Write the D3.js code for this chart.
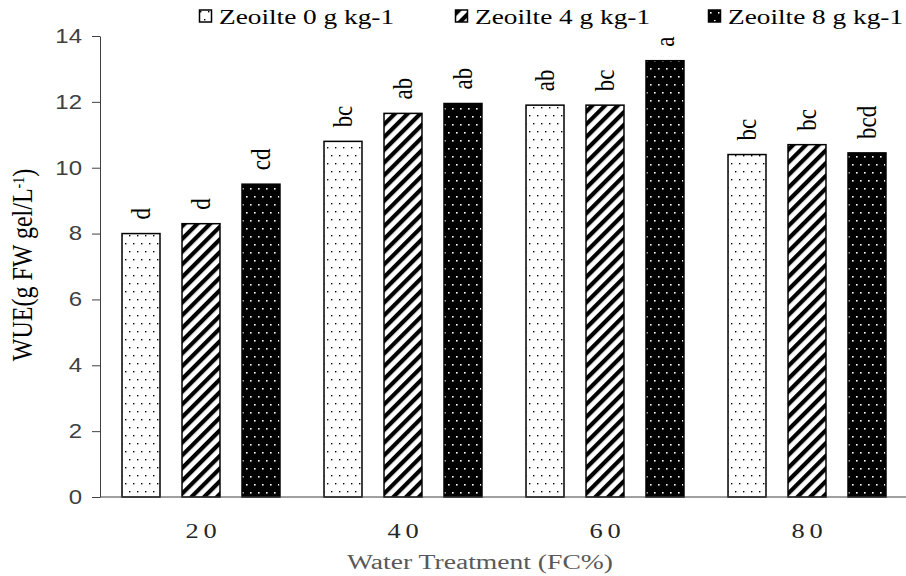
<!DOCTYPE html>
<html>
<head>
<meta charset="utf-8">
<script src="https://cdn.jsdelivr.net/npm/d3@7/dist/d3.min.js"></script>
<style>
  body { margin: 0; background: #fff; }
  text { font-family: "Liberation Serif", "Times New Roman", serif; }
</style>
</head>
<body>
<div id="chart"></div>
<script>
var categories, seriesNames, zeo0, zeo4, zeo8, letters0, letters4, letters8, yTicks;
var svg, x0, x1, y, stretch, patterns, rows, series;

// data
categories = ["20", "40", "60", "80"];
seriesNames = ["Zeoilte 0 g kg-1", "Zeoilte 4 g kg-1", "Zeoilte 8 g kg-1"];
zeo0 = [8.0, 10.8, 11.9, 10.4];
zeo4 = [8.3, 11.65, 11.9, 10.7];
zeo8 = [9.5, 11.95, 13.25, 10.45];
letters0 = ["d", "bc", "ab", "bc"];
letters4 = ["d", "ab", "bc", "bc"];
letters8 = ["cd", "ab", "a", "bcd"];
yTicks = [0, 2, 4, 6, 8, 10, 12, 14];

stretch = 1.3; // the source image is wide for its fonts

series = [
  {name: seriesNames[0], values: zeo0, letters: letters0, fill: "url(#pDots)"},
  {name: seriesNames[1], values: zeo4, letters: letters4, fill: "url(#pStripe)"},
  {name: seriesNames[2], values: zeo8, letters: letters8, fill: "url(#pBlack)"}
];

rows = [];
categories.forEach(function(c, i) {
  series.forEach(function(s, j) {
    rows.push({cat: c, key: s.name, value: s.values[i], letter: s.letters[i], fill: s.fill});
  });
});

svg = d3.select("#chart").append("svg").attr("width", 906).attr("height", 576);

// fill patterns
patterns = svg.append("defs");
var pd = patterns.append("pattern").attr("id", "pDots").attr("patternUnits", "userSpaceOnUse")
  .attr("width", 8).attr("height", 16);
pd.append("rect").attr("width", 8).attr("height", 16).attr("fill", "#fff");
pd.append("rect").attr("x", 1).attr("y", 3).attr("width", 1.4).attr("height", 1.4).attr("fill", "#000");
pd.append("rect").attr("x", 5).attr("y", 11).attr("width", 1.4).attr("height", 1.4).attr("fill", "#000");

var ps = patterns.append("pattern").attr("id", "pStripe").attr("patternUnits", "userSpaceOnUse")
  .attr("width", 9).attr("height", 9).attr("patternTransform", "rotate(45)");
ps.append("rect").attr("width", 9).attr("height", 9).attr("fill", "#fff");
ps.append("rect").attr("x", 0).attr("width", 4.2).attr("height", 9).attr("fill", "#000");

var pb = patterns.append("pattern").attr("id", "pBlack").attr("patternUnits", "userSpaceOnUse")
  .attr("width", 8).attr("height", 16);
pb.append("rect").attr("width", 8).attr("height", 16).attr("fill", "#000");
pb.append("rect").attr("x", 2).attr("y", 4).attr("width", 1.6).attr("height", 1.6).attr("fill", "#fff");
pb.append("rect").attr("x", 6).attr("y", 12).attr("width", 1.6).attr("height", 1.6).attr("fill", "#fff");

// scales
x0 = d3.scaleBand().domain(categories).range([100, 908]).padding(0);
x1 = d3.scaleBand().domain(seriesNames).range([0, x0.bandwidth()]).paddingInner(0.367).paddingOuter(0.367);
y = d3.scaleLinear().domain([0, 14]).range([497, 36]);

// y axis
var yAxis = svg.append("g").attr("transform", "translate(100,0)")
  .call(d3.axisLeft(y).tickValues(yTicks).tickSize(8).tickPadding(8).tickSizeOuter(0));
yAxis.select(".domain").attr("stroke", "#404040");
yAxis.selectAll(".tick line").attr("stroke", "#404040");
yAxis.selectAll(".tick text")
  .style("font-family", "'Liberation Sans', Arial, sans-serif").style("font-size", "20px")
  .attr("fill", "#404040")
  .attr("transform", "scale(1.2,1)")
  .attr("x", -18 / 1.2);

// bars
var groups = svg.append("g").selectAll("g").data(categories).join("g")
  .attr("transform", function(d) { return "translate(" + x0(d) + ",0)"; });

groups.selectAll("rect").data(function(c) { return rows.filter(function(r) { return r.cat === c; }); })
  .join("rect")
  .attr("x", function(d) { return x1(d.key); })
  .attr("y", function(d) { return y(d.value); })
  .attr("width", x1.bandwidth())
  .attr("height", function(d) { return y(0) - y(d.value); })
  .attr("fill", function(d) { return d.fill; })
  .attr("stroke", "#000").attr("stroke-width", 1.5);

groups.selectAll("text").data(function(c) { return rows.filter(function(r) { return r.cat === c; }); })
  .join("text")
  .attr("transform", function(d) {
    return "translate(" + (x1(d.key) + x1.bandwidth() / 2) + "," + (y(d.value) - 14) + ") scale(1.15,1) rotate(-90)";
  })
  .attr("dy", "0.35em")
  .style("font-size", "23px")
  .attr("fill", "#000")
  .text(function(d) { return d.letter; });

// x axis
var xAxis = svg.append("g").attr("transform", "translate(0,497)")
  .call(d3.axisBottom(x0).tickSize(0).tickPadding(0));
xAxis.select(".domain").attr("stroke", "#404040").attr("d", "M100,0H906");
xAxis.selectAll(".tick text")
  .style("font-size", "22px").style("letter-spacing", "4px")
  .attr("fill", "#262626")
  .attr("dy", null).attr("y", 41)
  .attr("transform", "scale(1.2,1)")
  .attr("dx", "2px");

// axis titles
svg.append("text")
  .attr("transform", "translate(480,569) scale(1.38,1)")
  .attr("text-anchor", "middle")
  .style("font-size", "20px").attr("fill", "#595959")
  .text("Water Treatment (FC%)");

var yTitle = svg.append("text")
  .attr("transform", "translate(32,265) scale(1.2,1) rotate(-90)")
  .attr("text-anchor", "middle")
  .style("font-size", "24px").attr("fill", "#000");
yTitle.append("tspan").text("WUE(g FW gel/L");
yTitle.append("tspan").attr("dy", "-0.45em").style("font-size", "14px").text("-1");
yTitle.append("tspan").attr("dy", "0.3em").text(")");

// legend
var legendX = [199, 455, 708];
var legend = svg.append("g").selectAll("g").data(series).join("g")
  .attr("transform", function(d, i) { return "translate(" + legendX[i] + ",24)"; });
legend.append("rect")
  .attr("x", 0.5).attr("y", -14).attr("width", 12).attr("height", 12)
  .attr("fill", function(d) { return d.fill; })
  .attr("stroke", "#000").attr("stroke-width", 1.5);
legend.append("text")
  .attr("transform", "translate(20,0) scale(" + stretch + ",1)")
  .style("font-size", "21px").attr("fill", "#000")
  .text(function(d) { return d.name; });
</script>
</body>
</html>
